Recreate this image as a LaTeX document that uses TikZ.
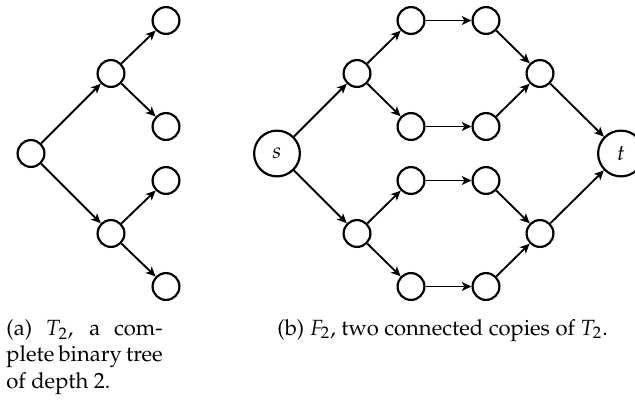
\documentclass[tikz,border=0pt]{standalone}
\usepackage[T1]{fontenc}
\usepackage{mathpazo}
\usetikzlibrary{arrows.meta}
\begin{document}
\begin{tikzpicture}[x=0.4545pt,y=-0.4545pt,
  v/.style={circle,draw,line width=1pt,minimum size=12.2pt,inner sep=0pt},
  bv/.style={circle,draw,line width=1pt,minimum size=20.8pt,inner sep=0pt},
  edg/.style={-{Stealth[length=4.4pt,width=4pt,inset=1.2pt]},line width=0.85pt}]
\useasboundingbox (0,0) rectangle (635,400);
% (a) tree T2
\node[v] (r) at (31,153.5) {};
\node[v] (a1) at (111,73.5) {};
\node[v] (a2) at (111,233.5) {};
\node[v] (a11) at (166,20.5) {};
\node[v] (a12) at (166,126.5) {};
\node[v] (a21) at (166,180.5) {};
\node[v] (a22) at (166,286.5) {};
\draw[edg] (r) -- (a1);
\draw[edg] (r) -- (a2);
\draw[edg] (a1) -- (a11);
\draw[edg] (a1) -- (a12);
\draw[edg] (a2) -- (a21);
\draw[edg] (a2) -- (a22);
% (b) F2
\node[bv] (s) at (277,153.5) {$s$};
\node[v] (u1) at (357,73.5) {};
\node[v] (d1) at (357,233.5) {};
\node[v] (u11) at (411,20.5) {};
\node[v] (u12) at (411,126.5) {};
\node[v] (d11) at (411,180.5) {};
\node[v] (d12) at (411,286.5) {};
\node[v] (u21) at (486,20.5) {};
\node[v] (u22) at (486,126.5) {};
\node[v] (d21) at (486,180.5) {};
\node[v] (d22) at (486,286.5) {};
\node[v] (u2) at (540,73.5) {};
\node[v] (d2) at (540,233.5) {};
\node[bv] (t) at (621,153.5) {$t$};
\draw[edg] (s) -- (u1);
\draw[edg] (s) -- (d1);
\draw[edg] (u1) -- (u11);
\draw[edg] (u1) -- (u12);
\draw[edg] (d1) -- (d11);
\draw[edg] (d1) -- (d12);
\draw[edg] (u11) -- (u21);
\draw[edg] (u12) -- (u22);
\draw[edg] (d11) -- (d21);
\draw[edg] (d12) -- (d22);
\draw[edg] (u21) -- (u2);
\draw[edg] (u22) -- (u2);
\draw[edg] (d21) -- (d2);
\draw[edg] (d22) -- (d2);
\draw[edg] (u2) -- (t);
\draw[edg] (d2) -- (t);
% captions
\node[anchor=north west,text width=71pt,inner sep=0pt,align=justify] (capa) at (6,319)
  {(a) $T_2$, a com-\linebreak plete binary tree\linebreak of depth 2.};
\node[anchor=base west,inner sep=0pt] (capb) at (277,335)
  {(b) $F_2$, two connected copies of $T_2$.};
\end{tikzpicture}
\end{document}
